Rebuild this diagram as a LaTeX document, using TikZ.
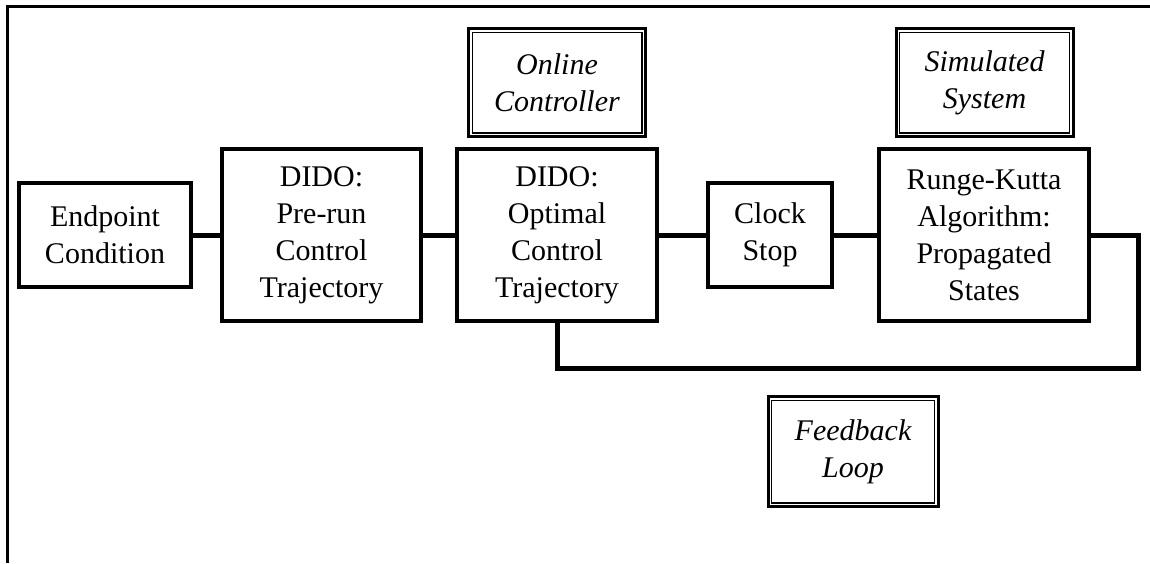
\documentclass[tikz,border=0pt]{standalone}
\usepackage{fontspec}
\setmainfont{Liberation Serif}

\begin{document}
\begin{tikzpicture}[
 x=1pt,y=-1pt,
 font=\fontsize{30}{37}\selectfont,
 block/.style={draw,line width=3.5pt,align=center,inner sep=0pt,fill=white},
 tall/.style={block,minimum height=172pt},
 short/.style={block,minimum height=104pt},
 tag/.style={draw,line width=3pt,align=center,inner sep=0pt,fill=white,
  minimum width=177pt,minimum height=108pt,font=\fontsize{30}{37}\selectfont\itshape,
  path picture={\draw[line width=1.2pt]
   ([shift={(3.6pt,-3.6pt)}]path picture bounding box.north west) rectangle
   ([shift={(-3.6pt,3.6pt)}]path picture bounding box.south east);}},
 link/.style={line width=5pt}
]
\useasboundingbox (0,0) rectangle (1150,563);
\draw[line width=3pt] (1150,6) -- (7,6) -- (7,563);
% main chain
\node[short,minimum width=172pt] (endpt) at (105,235) {Endpoint\\Condition};
\node[tall,minimum width=199pt] (prerun) at (321.5,235) {DIDO:\\Pre-run\\Control\\Trajectory};
\node[tall,minimum width=200pt] (optimal) at (557,235) {DIDO:\\Optimal\\Control\\Trajectory};
\node[short,minimum width=124pt] (clock) at (770,235) {Clock\\Stop};
\node[tall,minimum width=210pt] (rk) at (984,235) {Runge-Kutta\\Algorithm:\\Propagated\\States};
% labels
\node[tag] (online) at (557,82.5) {Online\\Controller};
\node[tag] (simsys) at (984.5,82.5) {Simulated\\System};
\node[tag,minimum width=170pt,minimum height=110pt] (feedback) at (853,451.5) {Feedback\\Loop};
\coordinate (loopcorner) at (1138,368);
\draw[link] (endpt) -- (prerun);
\draw[link] (prerun) -- (optimal);
\draw[link] (optimal) -- (clock);
\draw[link] (clock) -- (rk);
\draw[link] (rk.east) -| (loopcorner) -| (optimal.south);
\end{tikzpicture}
\end{document}
